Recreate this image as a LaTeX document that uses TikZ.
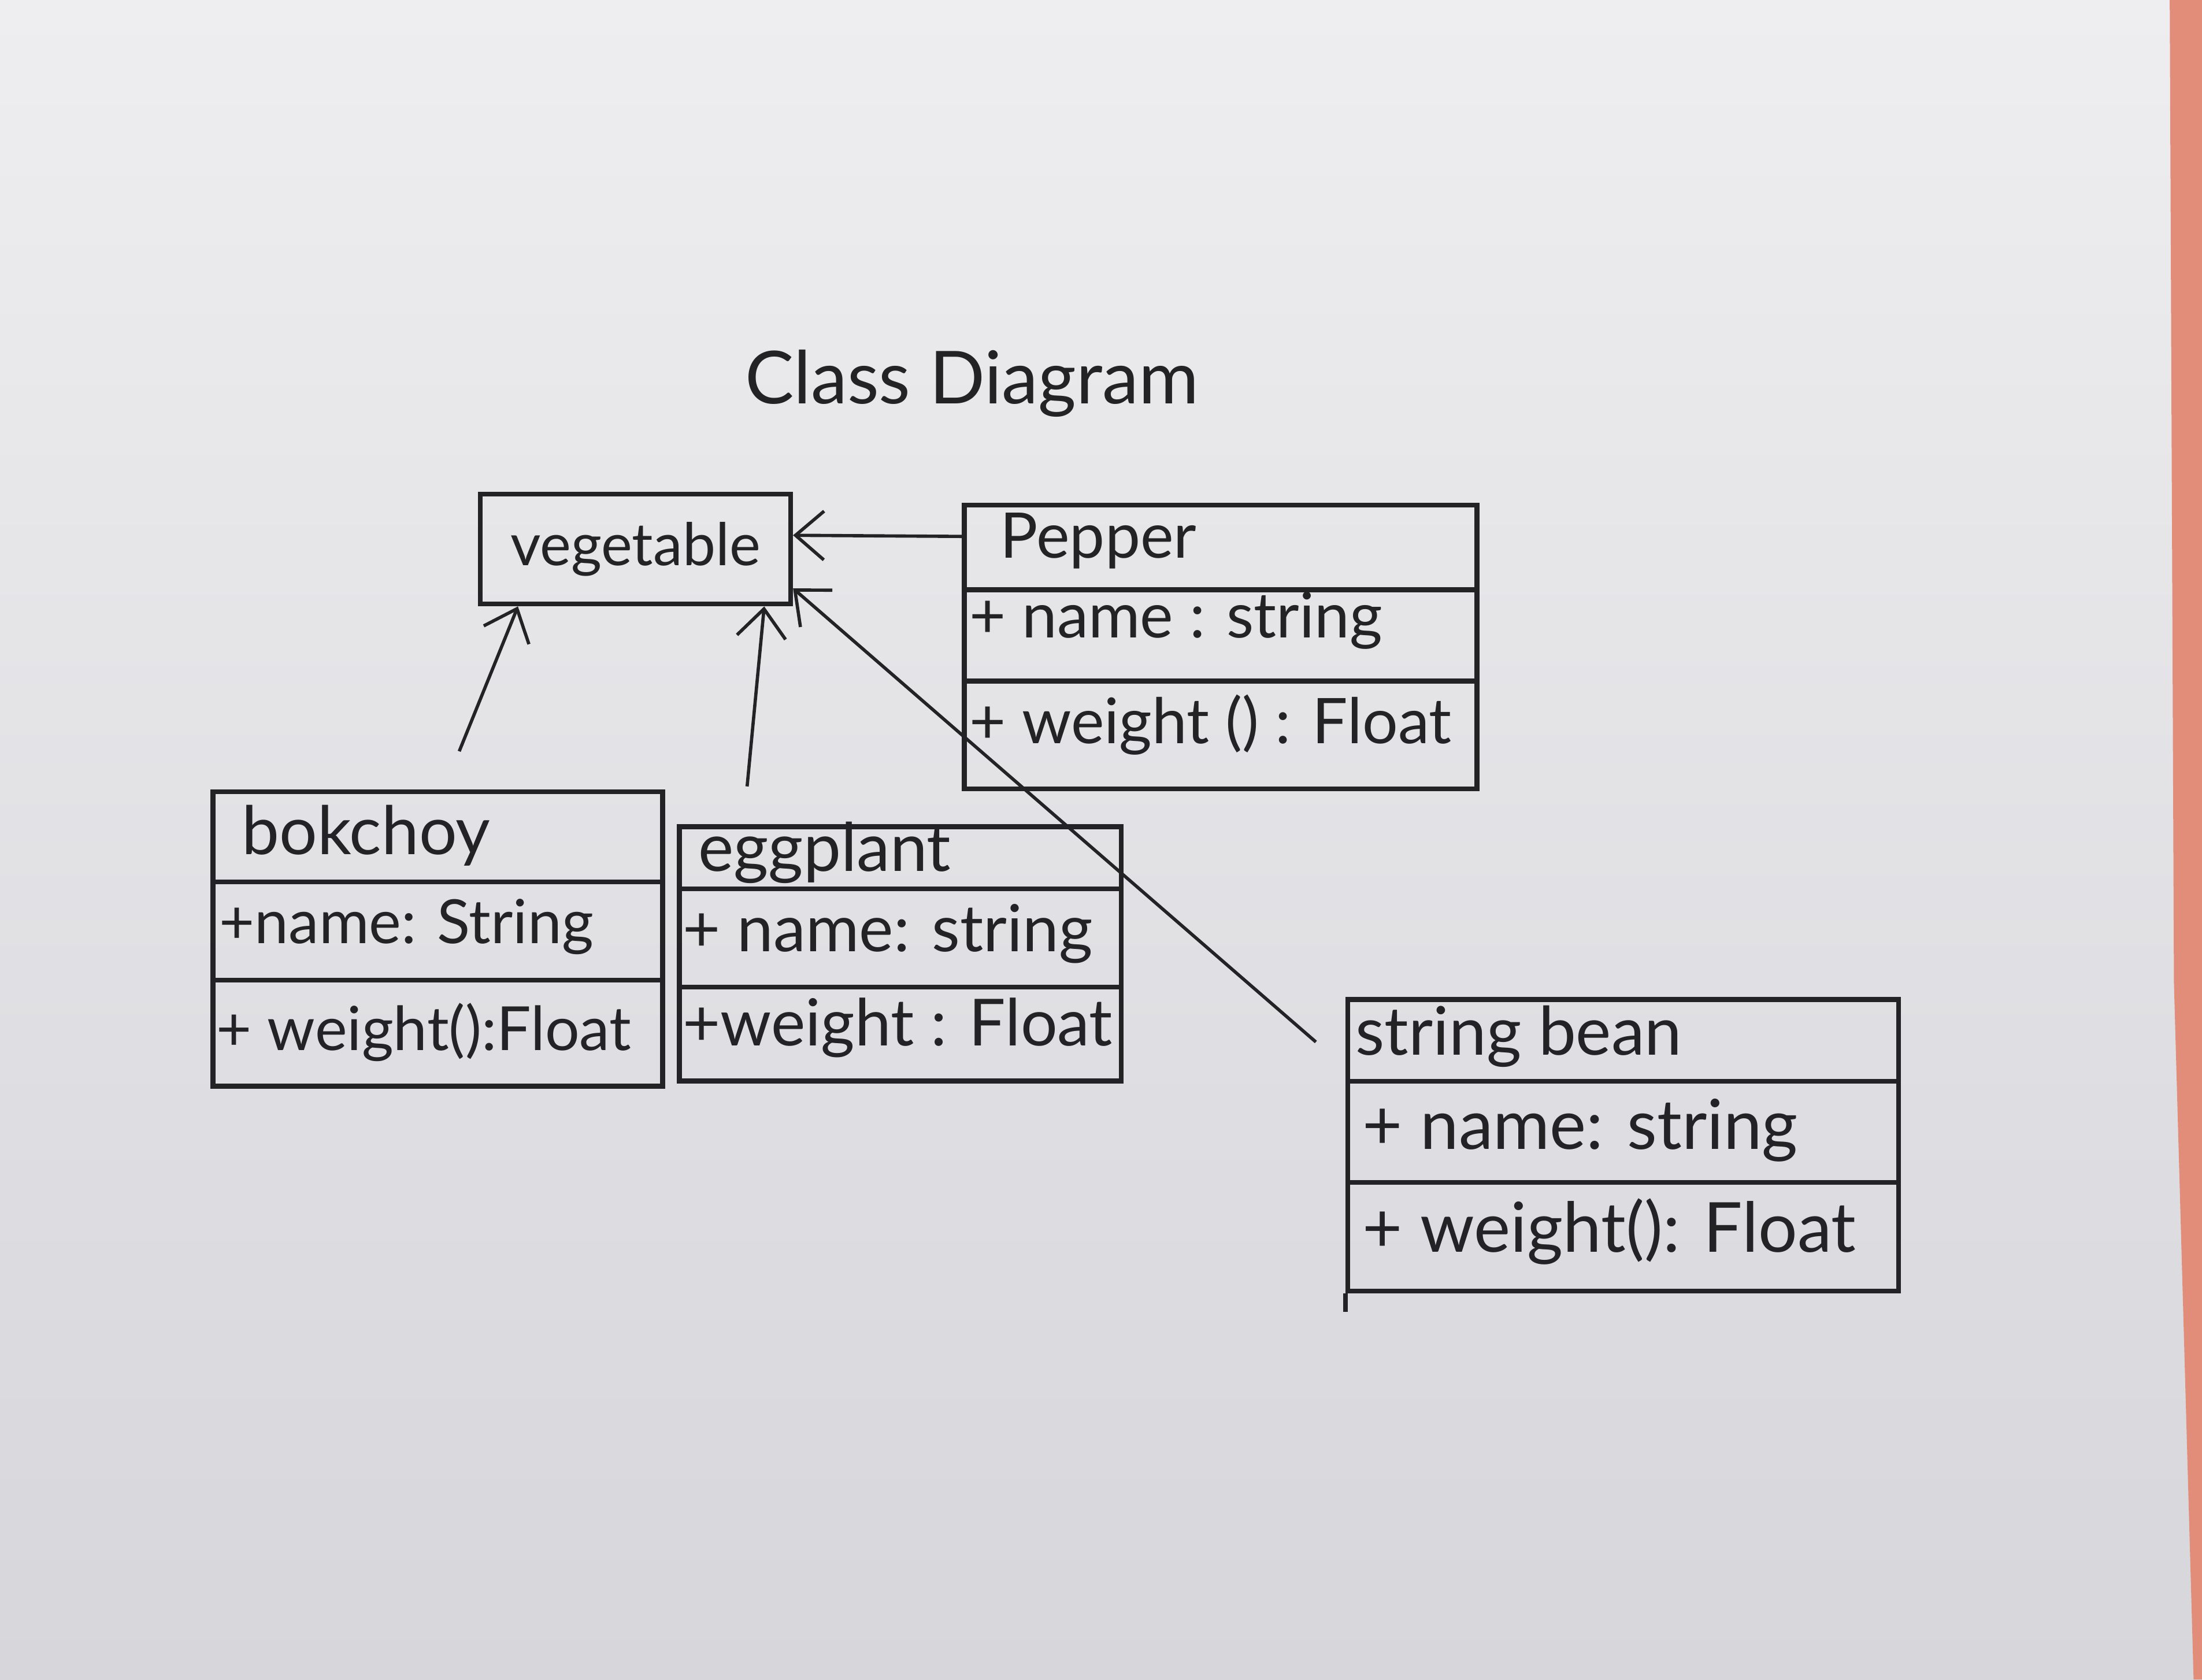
\documentclass[tikz,border=0pt]{standalone}
\usepackage{fontspec}
\setmainfont{Lato}
\usetikzlibrary{arrows.meta}
\definecolor{papertop}{RGB}{238,238,240}
\definecolor{paperbot}{RGB}{214,214,219}
\definecolor{ink}{RGB}{35,35,38}
\definecolor{salmon}{RGB}{226,140,122}
\begin{document}
\begin{tikzpicture}[x=0.0243cm,y=-0.0243cm,
  classbox/.style={draw=ink, line width=2.4pt, rectangle, inner sep=0pt, anchor=north west},
  divline/.style={draw=ink, line width=2.4pt},
  conn/.style={draw=ink, line width=1.6pt, -{Straight Barb[length=14pt,width=24pt,line width=1.6pt]}},
  lbl/.style={anchor=west, inner sep=0pt, text=ink},
  ttl/.style={inner sep=0pt, text=ink, font=\fontsize{36}{42}\selectfont}]
\useasboundingbox (0,0) rectangle (1568,1196);
\shade[top color=papertop, bottom color=paperbot] (0,0) rectangle (1568,1196);
\fill[salmon] (1545,0) -- (1568,0) -- (1568,1196) -- (1562,1196) -- (1548,700) -- cycle;

% title
\node[ttl] (title) at (692,273) {Class Diagram};

% vegetable
\node[classbox, anchor=center, minimum width=5.37cm, minimum height=1.90cm,
      font=\fontsize{29}{34}\selectfont, text=ink] (veg) at (452.5,391) {vegetable};

% Pepper
\node[classbox, minimum width=8.87cm, minimum height=4.91cm] (pep) at (685,358) {};
\draw[divline] (pep.west |- 0,420) -- (pep.east |- 0,420);
\draw[divline] (pep.west |- 0,485) -- (pep.east |- 0,485);
\begin{scope}[every node/.append style={font=\fontsize{31}{36}\selectfont}]
\node[lbl] (pepn) at (712,385) {Pepper};
\node[lbl] (pepa) at (690,442) {+ name : string};
\node[lbl] (pepo) at (690,516) {+ weight () : Float};
\end{scope}

% bokchoy
\node[classbox, minimum width=7.78cm, minimum height=5.10cm] (bok) at (150,562) {};
\draw[divline] (bok.west |- 0,628) -- (bok.east |- 0,628);
\draw[divline] (bok.west |- 0,698) -- (bok.east |- 0,698);
\begin{scope}[every node/.append style={font=\fontsize{30}{35}\selectfont}]
\node[lbl, font=\fontsize{33}{38}\selectfont] (bokn) at (172,595) {bokchoy};
\node[lbl] (boka) at (156,660) {+name: String};
\node[lbl] (boko) at (154,735) {+ weight():Float};
\end{scope}

% eggplant
\node[classbox, minimum width=7.65cm, minimum height=4.40cm] (egg) at (482,587) {};
\draw[divline] (egg.west |- 0,633) -- (egg.east |- 0,633);
\draw[divline] (egg.west |- 0,703) -- (egg.east |- 0,703);
\begin{scope}[every node/.append style={font=\fontsize{32}{37}\selectfont}]
\node[lbl, font=\fontsize{33}{38}\selectfont] (eggn) at (497,607) {eggplant};
\node[lbl] (egga) at (486,665) {+ name: string};
\node[lbl] (eggo) at (486,732) {+weight : Float};
\end{scope}

% string bean
\node[classbox, minimum width=9.53cm, minimum height=5.05cm] (sb) at (958,710) {};
\draw[divline] (sb.west |- 0,770) -- (sb.east |- 0,770);
\draw[divline] (sb.west |- 0,842) -- (sb.east |- 0,842);
\coordinate (sbtail) at (958,934);
\draw[divline] (sb.south west) -- (sbtail);
\begin{scope}[every node/.append style={font=\fontsize{34}{40}\selectfont}]
\node[lbl, font=\fontsize{33}{38}\selectfont] (sbn) at (965,738) {string bean};
\node[lbl] (sba) at (970,805) {+ name: string};
\node[lbl] (sbo) at (970,877) {+ weight(): Float};
\end{scope}

% connectors
\coordinate (pepfree) at (685,382);
\coordinate (bokfree) at (327,535);
\coordinate (eggfree) at (532,560);
\coordinate (sbfree) at (937,742);
\draw[conn] (pepfree) -- (veg.5);
\draw[conn] (bokfree) -- (veg.206);
\draw[conn] (eggfree) -- (veg.336);
\draw[conn] (sbfree) -- (veg.346);
\end{tikzpicture}
\end{document}
